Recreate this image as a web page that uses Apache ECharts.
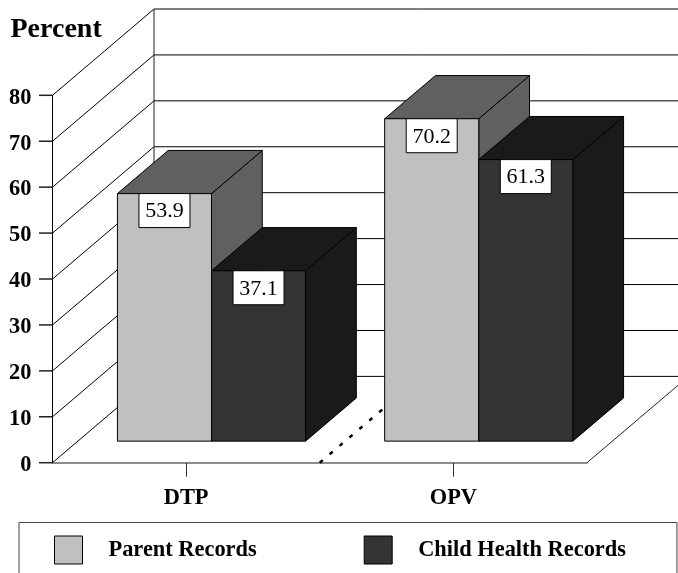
<!DOCTYPE html>
<html>
<head>
<meta charset="utf-8">
<style>html,body{margin:0;padding:0;background:#fff;overflow:hidden}#chart{width:678px;height:573px}</style>
<script src="https://cdn.jsdelivr.net/npm/echarts@6/dist/echarts.min.js"></script>
</head>
<body>
<div id="chart"></div>
<script>
// Vaccination coverage by source of information
const categories = ['DTP', 'OPV'];
const parentRecords = [53.9, 70.2];
const childHealthRecords = [37.1, 61.3];
const percentTicks = [0, 10, 20, 30, 40, 50, 60, 70, 80];

const SERIF = '"Liberation Serif", "Times New Roman", serif';
// Oblique projection of the depth axis, in pixels
const DEPTH_X = 101.5;
const DEPTH_Y = 86.3;
const TICK_LENGTH = 13.5;
const BAR_BAND_SHARE = 0.352;
const BAR_DEPTH_START = 0.25;
const BAR_DEPTH_END = 0.75;

function polygon(points, fill) {
  return {
    type: 'polygon',
    shape: { points: points },
    style: { fill: fill, stroke: '#000', lineWidth: 1, lineJoin: 'round' }
  };
}

function boxRenderer(slot, faceColor, shadeColor) {
  return function (params, api) {
    const categoryIndex = api.value(0);
    const value = api.value(1);
    const bandWidth = api.size([1, 0])[0];
    const barWidth = bandWidth * BAR_BAND_SHARE;
    const centre = api.coord([categoryIndex, 0]);
    const top = api.coord([categoryIndex, value])[1];
    const nearX = DEPTH_X * BAR_DEPTH_START;
    const nearY = DEPTH_Y * BAR_DEPTH_START;
    const spanX = DEPTH_X * (BAR_DEPTH_END - BAR_DEPTH_START);
    const spanY = DEPTH_Y * (BAR_DEPTH_END - BAR_DEPTH_START);
    const x0 = centre[0] + nearX + slot * barWidth;
    const x1 = x0 + barWidth;
    const yBase = centre[1] - nearY;
    const yTop = top - nearY;
    const labelWidth = 51;
    const labelHeight = 34;
    const labelX = (x0 + x1) / 2 - labelWidth / 2;
    return {
      type: 'group',
      children: [
        polygon([[x1, yBase], [x1 + spanX, yBase - spanY], [x1 + spanX, yTop - spanY], [x1, yTop]], shadeColor),
        polygon([[x0, yTop], [x0 + spanX, yTop - spanY], [x1 + spanX, yTop - spanY], [x1, yTop]], shadeColor),
        polygon([[x0, yBase], [x1, yBase], [x1, yTop], [x0, yTop]], faceColor),
        {
          type: 'rect',
          shape: { x: labelX, y: yTop, width: labelWidth, height: labelHeight },
          style: { fill: '#fff', stroke: '#000', lineWidth: 1 }
        },
        {
          type: 'text',
          style: {
            x: labelX + labelWidth / 2,
            y: yTop + labelHeight / 2 + 1,
            text: value.toFixed(1),
            align: 'center',
            verticalAlign: 'middle',
            fill: '#000',
            font: '22px ' + SERIF
          }
        }
      ]
    };
  };
}

// Tick mark, side wall ruling and back wall ruling for one axis value
function renderWallLine(params, api) {
  const grid = params.coordSys;
  const y = api.coord([0, api.value(1)])[1];
  return {
    type: 'group',
    children: [
      {
        type: 'line',
        shape: { x1: grid.x - TICK_LENGTH, y1: y, x2: grid.x, y2: y },
        style: { stroke: '#222', lineWidth: 1.5 }
      },
      {
        type: 'polyline',
        shape: {
          points: [
            [grid.x, y],
            [grid.x + DEPTH_X, y - DEPTH_Y],
            [grid.x + grid.width + DEPTH_X, y - DEPTH_Y]
          ]
        },
        style: { fill: 'none', stroke: '#000', lineWidth: 1 }
      }
    ]
  };
}

// Back wall upright and the right-hand floor edge
function renderFrame(params, api) {
  const grid = params.coordSys;
  const yFloor = api.coord([0, 0])[1];
  const yTop = api.coord([0, api.value(1)])[1];
  const line = (a, b) => ({
    type: 'line',
    shape: { x1: a[0], y1: a[1], x2: b[0], y2: b[1] },
    style: { stroke: '#222', lineWidth: 1 }
  });
  return {
    type: 'group',
    children: [
      line([grid.x + DEPTH_X, yFloor - DEPTH_Y], [grid.x + DEPTH_X, yTop - DEPTH_Y]),
      line([grid.x + grid.width, yFloor], [grid.x + grid.width + DEPTH_X, yFloor - DEPTH_Y])
    ]
  };
}

// Dotted floor line separating the two vaccine groups
function renderDivider(params, api) {
  const grid = params.coordSys;
  const yFloor = api.coord([0, 0])[1];
  const xMid = grid.x + grid.width / 2;
  return {
    type: 'line',
    shape: { x1: xMid, y1: yFloor, x2: xMid + DEPTH_X, y2: yFloor - DEPTH_Y },
    style: { stroke: '#000', lineWidth: 2.5, lineDash: [4, 9] }
  };
}

const chart = echarts.init(document.getElementById('chart'));
chart.setOption({
  animation: false,
  backgroundColor: '#fff',
  title: {
    text: 'Percent',
    left: 10.5,
    top: 16,
    padding: 0,
    textStyle: { fontFamily: SERIF, fontWeight: 'bold', fontSize: 28, color: '#000' }
  },
  grid: { left: 52.5, top: 95.3, width: 534.5, height: 367.4, containLabel: false },
  xAxis: {
    type: 'category',
    data: categories,
    axisLine: { show: true, lineStyle: { color: '#666', width: 1.5 } },
    axisTick: { show: true, alignWithLabel: true, length: 14, lineStyle: { color: '#333' } },
    axisLabel: {
      margin: 25,
      fontFamily: SERIF,
      fontWeight: 'bold',
      fontSize: 22.4,
      color: '#000'
    },
    splitLine: { show: false }
  },
  yAxis: {
    type: 'value',
    min: 0,
    max: 80,
    interval: 10,
    axisLine: { show: true, lineStyle: { color: '#000', width: 1 } },
    axisTick: { show: false },
    axisLabel: {
      margin: 21,
      verticalAlign: 'top',
      lineHeight: 5,
      fontFamily: SERIF,
      fontWeight: 'bold',
      fontSize: 22.4,
      color: '#000'
    },
    splitLine: { show: false }
  },
  legend: {
    left: 19,
    top: 522.5,
    padding: [13, 51, 24, 35],
    itemWidth: 28,
    itemHeight: 28,
    itemGap: 107,
    borderColor: '#444',
    borderWidth: 1,
    selectedMode: false,
    textStyle: {
      fontFamily: SERIF,
      fontWeight: 'bold',
      fontSize: 22.4,
      color: '#000',
      padding: [3, 0, 0, 21]
    },
    data: [
      { name: 'Parent Records', icon: 'rect', itemStyle: { color: '#c0c0c0', borderColor: '#000', borderWidth: 1 } },
      { name: 'Child Health Records', icon: 'rect', itemStyle: { color: '#333333', borderColor: '#000', borderWidth: 1 } }
    ]
  },
  series: [
    {
      type: 'custom',
      z: 1,
      silent: true,
      renderItem: renderWallLine,
      data: percentTicks.map(v => [0, v])
    },
    {
      type: 'custom',
      z: 1,
      silent: true,
      renderItem: renderFrame,
      data: [[0, percentTicks[percentTicks.length - 1]]]
    },
    {
      type: 'custom',
      z: 1,
      silent: true,
      renderItem: renderDivider,
      data: [[0, 0]]
    },
    {
      name: 'Parent Records',
      type: 'custom',
      z: 2,
      silent: true,
      itemStyle: { color: '#c0c0c0' },
      renderItem: boxRenderer(-1, '#c0c0c0', '#606060'),
      data: parentRecords.map((v, i) => [i, v])
    },
    {
      name: 'Child Health Records',
      type: 'custom',
      z: 3,
      silent: true,
      itemStyle: { color: '#333333' },
      renderItem: boxRenderer(0, '#333333', '#1a1a1a'),
      data: childHealthRecords.map((v, i) => [i, v])
    }
  ]
});
</script>
</body>
</html>
